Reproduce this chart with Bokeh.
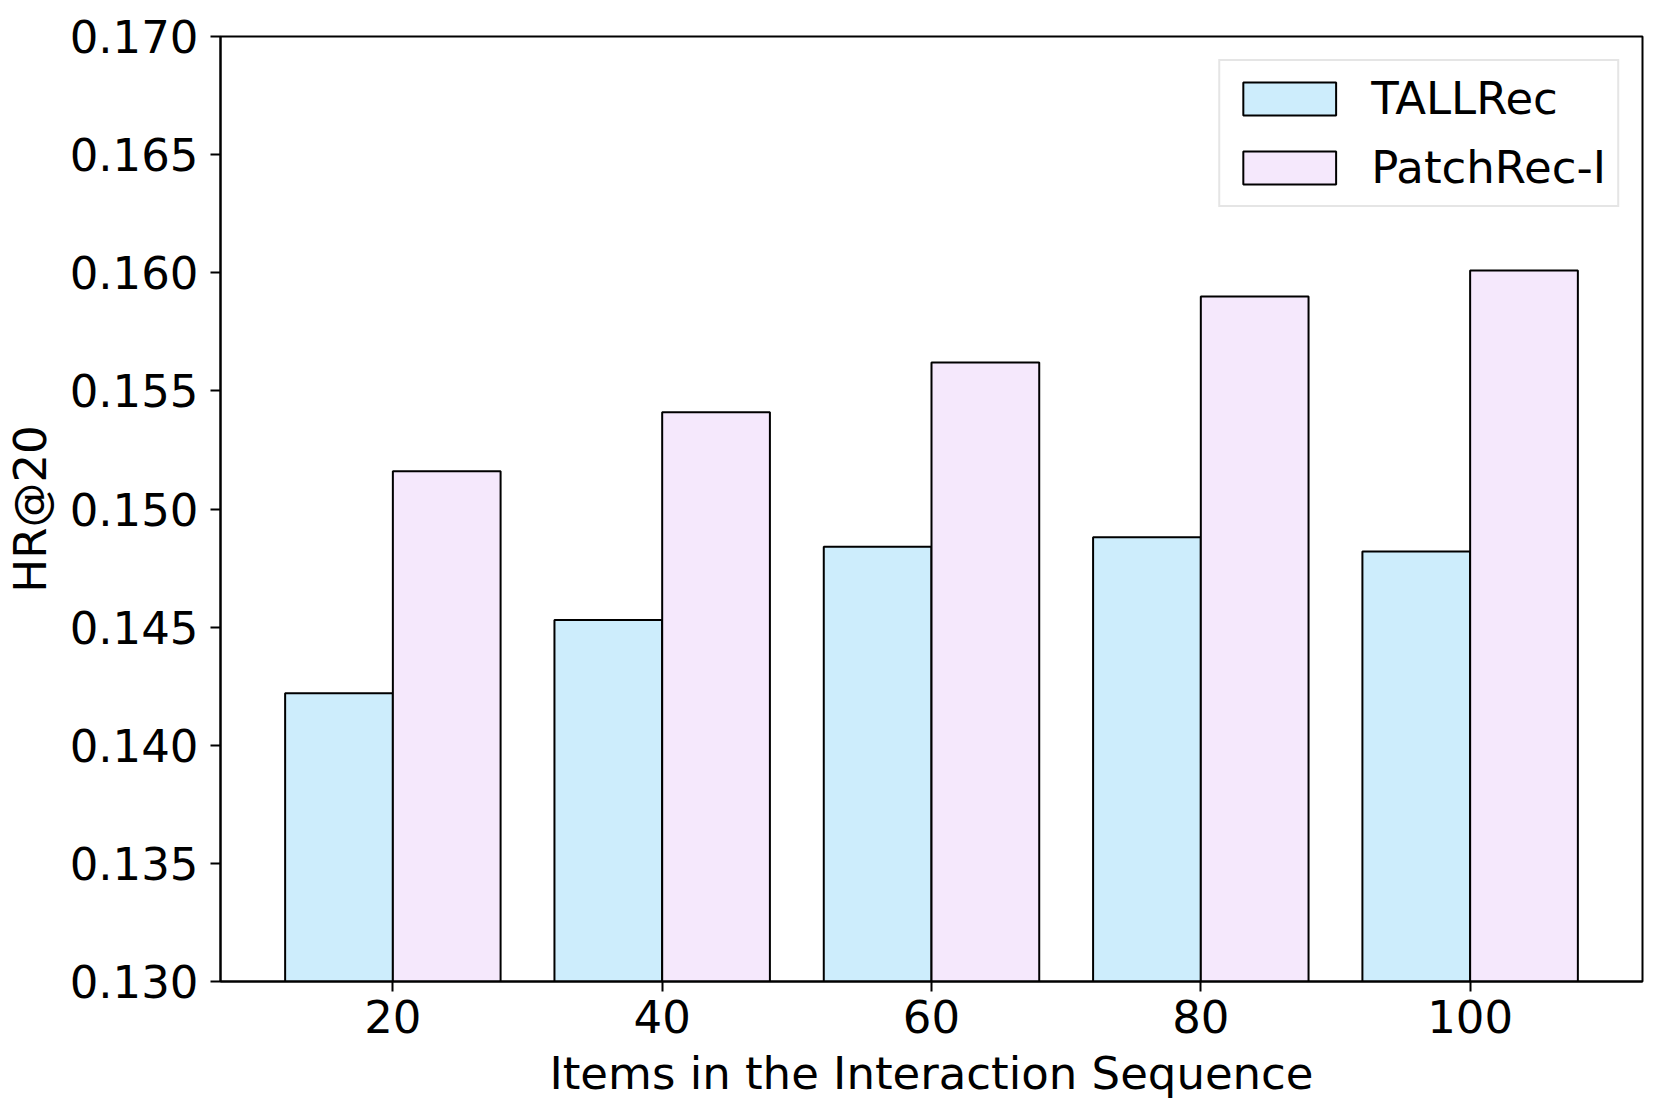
from bokeh.plotting import figure
from bokeh.models import ColumnDataSource, FixedTicker, NumeralTickFormatter, Range1d, Legend, LegendItem
from bokeh.transform import dodge
from bokeh.embed import file_html
from bokeh.resources import INLINE

items = [20, 40, 60, 80, 100]
tallrec = [0.1422, 0.1453, 0.1484, 0.1488, 0.1482]
patchrec = [0.1516, 0.1541, 0.1562, 0.1590, 0.1601]
y_ticks = [0.130, 0.135, 0.140, 0.145, 0.150, 0.155, 0.160, 0.165, 0.170]

src = ColumnDataSource(dict(x=items, tallrec=tallrec, patchrec=patchrec))

FONT = "DejaVu Sans"
FS = "45px"

p = figure(width=1645, height=1102, output_backend="svg", toolbar_location=None,
           x_range=Range1d(7.2, 112.8), y_range=Range1d(0.130, 0.170),
           min_border_left=211, min_border_right=3, min_border_top=36, min_border_bottom=100)
p.grid.visible = False
p.outline_line_color = "black"
p.outline_line_width = 2
p.background_fill_color = "white"
p.border_fill_color = "white"

r1 = p.vbar(x=dodge("x", -4, range=p.x_range), top="tallrec", bottom=0, width=8, source=src,
            fill_color="#cdedfc", line_color="black", line_width=2)
r2 = p.vbar(x=dodge("x", 4, range=p.x_range), top="patchrec", bottom=0, width=8, source=src,
            fill_color="#f5e8fc", line_color="black", line_width=2)

for ax in (p.xaxis[0], p.yaxis[0]):
    ax.axis_line_color = "black"
    ax.axis_line_width = 2
    ax.major_tick_line_width = 2
    ax.major_tick_out = 10
    ax.major_tick_in = 0
    ax.minor_tick_out = 0
    ax.minor_tick_in = 0
    ax.major_label_text_font = FONT
    ax.major_label_text_font_size = FS
    ax.major_label_text_color = "black"
    ax.axis_label_text_font = FONT
    ax.axis_label_text_font_size = FS
    ax.axis_label_text_font_style = "normal"
    ax.axis_label_text_color = "black"

p.xaxis.ticker = FixedTicker(ticks=items)
p.xaxis.major_label_standoff = 8
p.xaxis.axis_label = "Items in the Interaction Sequence"
p.xaxis.axis_label_standoff = 11

p.yaxis.ticker = FixedTicker(ticks=y_ticks)
p.yaxis.formatter = NumeralTickFormatter(format="0.000")
p.yaxis.major_label_standoff = 12
p.yaxis.axis_label = "HR@20"
p.yaxis.axis_label_standoff = 10

legend = Legend(items=[LegendItem(label="TALLRec", renderers=[r1]),
                       LegendItem(label="PatchRec-I", renderers=[r2])],
                location="top_right")
legend.margin = 23
legend.padding = 11
legend.spacing = 16
legend.glyph_width = 116
legend.glyph_height = 41
legend.label_standoff = 24
legend.label_text_font = FONT
legend.label_text_font_size = FS
legend.label_text_color = "black"
legend.border_line_color = "#cccccc"
legend.border_line_width = 2
legend.background_fill_alpha = 0.8
p.add_layout(legend)

open("out.html", "w").write(file_html(p, INLINE))
